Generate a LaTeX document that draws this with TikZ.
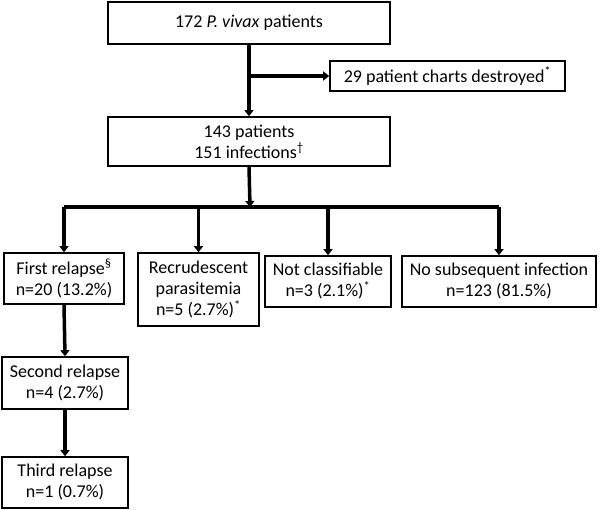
\documentclass[tikz,border=0pt]{standalone}
\usepackage{fontspec}
\setmainfont{Carlito}
\usetikzlibrary{arrows.meta}
\tikzset{
  box/.style={draw, line width=1.6pt, align=center, inner sep=0pt, font=\fontsize{18}{21}\selectfont},
  arr/.style={line width=3.5pt, -{Triangle[length=6pt,width=9pt]}},
  bar/.style={line width=3.5pt}
}
\begin{document}
\begin{tikzpicture}[x=1pt,y=1pt]
		\useasboundingbox (0,0) rectangle (600,510);
		\node[box, minimum width=282pt, minimum height=42pt] (top) at (249,487) {172 \textit{P. vivax} patients};
		\node[box, minimum width=235pt, minimum height=30pt] (dest) at (447.5,434) {29 patient charts destroyed\textsuperscript{*}};
		\node[box, minimum width=282pt, minimum height=49pt] (pat) at (249,368.5) {143 patients\\151 infections\textsuperscript{\dag}};
		\node[box, minimum width=120pt, minimum height=51pt] (first) at (64,231.5) {First relapse\textsuperscript{\S}\\n=20 (13.2\%)};
		\node[box, minimum width=121pt, minimum height=73pt] (recru) at (198.5,220.5) {Recrudescent\\parasitemia\\n=5 (2.7\%)\textsuperscript{*}};
		\node[box, minimum width=126pt, minimum height=51pt] (notcl) at (328,228.5) {Not classifiable\\n=3 (2.1\%)\textsuperscript{*}};
		\node[box, minimum width=194pt, minimum height=51pt] (nosub) at (499,228.5) {No subsequent infection\\n=123 (81.5\%)};
		\node[box, minimum width=126pt, minimum height=52pt] (second) at (65,127) {Second relapse\\n=4 (2.7\%)};
		\node[box, minimum width=126pt, minimum height=51pt] (third) at (65,27.5) {Third relapse\\n=1 (0.7\%)};
		\coordinate (split) at (250,303);

		\draw [arr] (top.south) -- (pat.north);
		\draw [arr] (top.south |- dest.west) -- (dest.west);
		\draw [arr] (pat.south) -- (split);
		\draw [bar] (first.north |- split) -- (nosub.north |- split);
		\draw [arr] (first.north |- split) -- (first.north);
		\draw [arr] (recru.north |- split) -- (recru.north);
		\draw [arr] (notcl.north |- split) -- (notcl.north);
		\draw [arr] (nosub.north |- split) -- (nosub.north);
		\draw [arr] (first.south) -- (second.north);
		\draw [arr] (second.south) -- (third.north);
\end{tikzpicture}
\end{document}
